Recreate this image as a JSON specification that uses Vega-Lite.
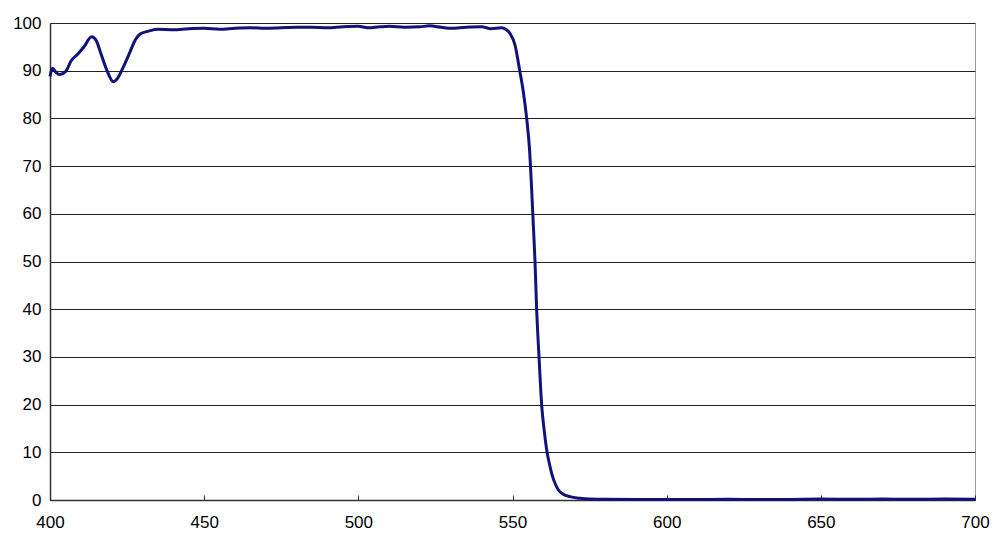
{
  "$schema": "https://vega.github.io/schema/vega-lite/v6.json",
  "width": 925,
  "height": 477,
  "autosize": "none",
  "padding": {"left": 50, "top": 23, "right": 25, "bottom": 50},
  "background": "white",
  "config": {
    "view": {"stroke": "#9a9a9a", "strokeWidth": 1},
    "font": "Liberation Sans"
  },
  "data": {
    "values": [
      {"nm": 400, "T": 88.8}, {"nm": 400.8, "T": 90.5}, {"nm": 402, "T": 89.6}, {"nm": 403.2, "T": 89.2},
      {"nm": 405, "T": 89.8}, {"nm": 407, "T": 92.2}, {"nm": 409.2, "T": 93.6}, {"nm": 411, "T": 95.0},
      {"nm": 413.5, "T": 97.1}, {"nm": 415, "T": 96.3}, {"nm": 416.5, "T": 93.6}, {"nm": 418.5, "T": 90.0},
      {"nm": 420.5, "T": 87.7}, {"nm": 422, "T": 88.5}, {"nm": 423.8, "T": 90.8}, {"nm": 426, "T": 94.0},
      {"nm": 427.6, "T": 96.4}, {"nm": 429.2, "T": 97.7}, {"nm": 432, "T": 98.3}, {"nm": 435, "T": 98.7},
      {"nm": 440, "T": 98.6}, {"nm": 445, "T": 98.8}, {"nm": 450, "T": 98.9}, {"nm": 455, "T": 98.7},
      {"nm": 460, "T": 98.9}, {"nm": 465, "T": 99.0}, {"nm": 470, "T": 98.9}, {"nm": 475, "T": 99.0},
      {"nm": 480, "T": 99.1}, {"nm": 485, "T": 99.1}, {"nm": 490, "T": 99.0}, {"nm": 495, "T": 99.2},
      {"nm": 500, "T": 99.3}, {"nm": 503, "T": 99.0}, {"nm": 507, "T": 99.2}, {"nm": 510, "T": 99.3},
      {"nm": 515, "T": 99.1}, {"nm": 520, "T": 99.2}, {"nm": 523, "T": 99.4}, {"nm": 527, "T": 99.1},
      {"nm": 530, "T": 98.9}, {"nm": 535, "T": 99.1}, {"nm": 540, "T": 99.2}, {"nm": 543, "T": 98.8},
      {"nm": 546.4, "T": 99.0}, {"nm": 548, "T": 98.6}, {"nm": 549.2, "T": 97.8}, {"nm": 550.8, "T": 95.4},
      {"nm": 552.4, "T": 89.8}, {"nm": 553.5, "T": 85.6}, {"nm": 554.6, "T": 80.0}, {"nm": 555.5, "T": 73.7},
      {"nm": 556.2, "T": 65.3}, {"nm": 556.8, "T": 57.0}, {"nm": 557.3, "T": 50.0}, {"nm": 557.8, "T": 40.5},
      {"nm": 558.6, "T": 30.0}, {"nm": 559.5, "T": 19.6}, {"nm": 560.3, "T": 14.5}, {"nm": 561.1, "T": 10.5},
      {"nm": 562, "T": 7.5}, {"nm": 562.7, "T": 5.6}, {"nm": 564, "T": 3.2}, {"nm": 564.9, "T": 2.1},
      {"nm": 566.5, "T": 1.2}, {"nm": 568.6, "T": 0.7}, {"nm": 571.9, "T": 0.35}, {"nm": 575, "T": 0.2},
      {"nm": 580, "T": 0.15}, {"nm": 590, "T": 0.1}, {"nm": 600, "T": 0.12}, {"nm": 610, "T": 0.1},
      {"nm": 620, "T": 0.15}, {"nm": 630, "T": 0.1}, {"nm": 640, "T": 0.12}, {"nm": 650, "T": 0.2},
      {"nm": 660, "T": 0.15}, {"nm": 670, "T": 0.2}, {"nm": 680, "T": 0.15}, {"nm": 690, "T": 0.2},
      {"nm": 700, "T": 0.15}
    ]
  },
  "mark": {"type": "line", "color": "#12127a", "strokeWidth": 3, "interpolate": "monotone"},
  "encoding": {
    "x": {
      "field": "nm", "type": "quantitative",
      "scale": {"domain": [400, 700], "nice": false, "zero": false},
      "axis": {
        "title": null, "values": [400, 450, 500, 550, 600, 650, 700],
        "grid": false, "domainColor": "#333", "domainWidth": 1.5,
        "tickColor": "#333", "tickSize": -5, "labelPadding": 19, "labelFlush": false,
        "labelFontSize": 17, "labelColor": "#000", "labelFont": "Liberation Sans"
      }
    },
    "y": {
      "field": "T", "type": "quantitative",
      "scale": {"domain": [0, 100], "nice": false},
      "axis": {
        "title": null, "values": [0, 10, 20, 30, 40, 50, 60, 70, 80, 90, 100],
        "grid": true, "gridColor": "#222", "gridWidth": 1, "gridOpacity": 1,
        "ticks": false, "domainColor": "#333", "domainWidth": 1.5, "labelFlush": false,
        "labelPadding": 9, "labelFontSize": 17, "labelColor": "#000", "labelFont": "Liberation Sans"
      }
    }
  }
}
